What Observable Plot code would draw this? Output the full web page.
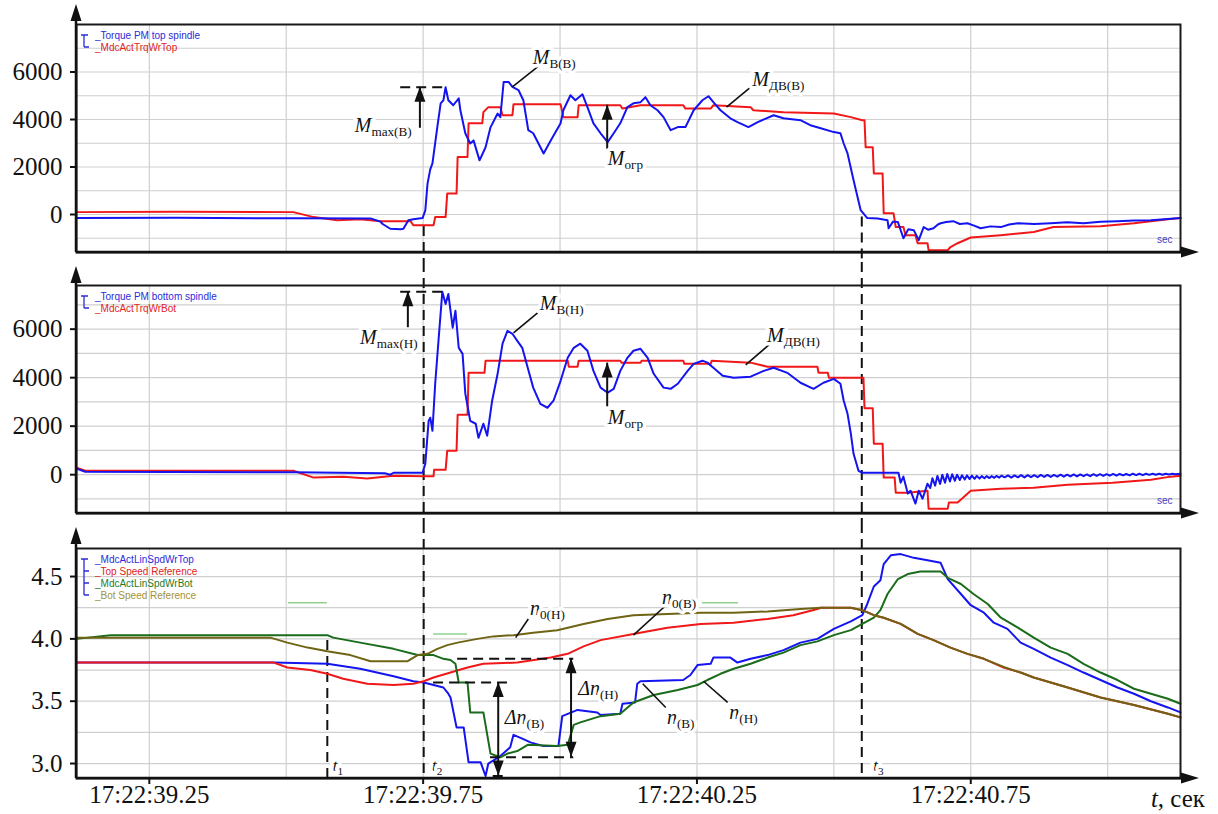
<!DOCTYPE html>
<html>
<head>
<meta charset="utf-8">
<script src="https://cdn.jsdelivr.net/npm/d3@7"></script>
<script src="https://cdn.jsdelivr.net/npm/@observablehq/plot@0.6"></script>
<style>
  body { margin: 0; background: #fff; }
  #chart { position: relative; width: 1218px; height: 814px; }
  #chart svg { position: absolute; left: 0; overflow: visible; }
</style>
</head>
<body>
<div id="chart"></div>
<script>
// ---- time axis (seconds within 17:22) ----
const timeDomain = [39.117, 41.133];
const majorTimes = [39.25, 39.75, 40.25, 40.75];
const gridTimes = [39.25, 39.5, 39.75, 40.0, 40.25, 40.5, 40.75, 41.0];
const tMarks = {t1: 39.575, t2: 39.751, t3: 40.551};

// ---- panel 1: top spindle torque ----
const torqueTicks = [0, 2000, 4000, 6000];
const torqueGrid = [-1000, 0, 1000, 2000, 3000, 4000, 5000, 6000, 7000];
const legendTop = [{label: "Torque PM top spindle", color: "#2b2bd9"}, {label: "MdcActTrqWrTop", color: "#e02424"}];
const torqueTopPM = [
  [39.117,-150],[39.300,-140],[39.513,-160],[39.654,-170],[39.672,-300],[39.676,-400],[39.690,-600],
  [39.709,-620],[39.714,-600],[39.723,-240],[39.732,-200],[39.749,-150],[39.754,180],[39.758,1300],
  [39.763,1900],[39.767,2150],[39.776,3700],[39.782,4680],[39.787,4810],[39.791,5360],[39.796,4810],
  [39.805,4600],[39.815,4890],[39.818,4390],[39.827,3420],[39.836,2990],[39.842,3120],[39.853,2280],
  [39.864,2830],[39.873,3670],[39.886,4250],[39.891,4100],[39.897,5580],[39.906,5580],[39.913,5370],
  [39.924,5240],[39.933,4810],[39.942,3550],[39.951,3420],[39.970,2570],[39.983,3120],[40.001,3840],
  [40.006,4390],[40.019,5020],[40.028,4810],[40.041,5060],[40.050,4520],[40.061,3840],[40.074,3420],
  [40.087,3050],[40.098,3420],[40.110,3840],[40.123,4520],[40.134,4680],[40.147,4730],[40.156,4940],
  [40.165,4600],[40.178,4390],[40.189,4100],[40.202,3550],[40.215,3680],[40.229,3680],[40.244,4390],
  [40.260,4810],[40.271,4980],[40.280,4730],[40.293,4390],[40.311,4050],[40.324,3890],[40.344,3680],
  [40.361,3890],[40.390,4180],[40.408,4050],[40.439,3970],[40.457,3760],[40.476,3630],[40.500,3470],
  [40.512,3420],[40.518,2990],[40.525,2570],[40.536,1440],[40.549,180],[40.561,-150],[40.580,-170],
  [40.598,-240],[40.600,-580],[40.608,-300],[40.617,-320],[40.627,-1000],[40.636,-620],[40.646,-660],
  [40.655,-1080],[40.664,-530],[40.672,-640],[40.682,-580],[40.690,-420],[40.695,-370],[40.705,-320],
  [40.718,-280],[40.730,-400],[40.744,-370],[40.756,-470],[40.768,-580],[40.786,-500],[40.805,-530],
  [40.820,-420],[40.836,-370],[40.866,-400],[40.896,-370],[40.926,-330],[40.956,-370],[40.987,-310],
  [41.018,-280],[41.048,-250],[41.079,-240],[41.110,-190],[41.133,-150]
];
const torqueRefTop = [
  [39.117,100],[39.300,120],[39.513,100],[39.550,-110],[39.593,-240],[39.635,-200],[39.672,-280],
  [39.727,-280],[39.732,-450],[39.769,-450],[39.772,-110],[39.791,-110],[39.794,880],[39.811,880],
  [39.813,2420],[39.831,2420],[39.833,3840],[39.858,3840],[39.860,4310],[39.869,4520],[39.891,4520],
  [39.895,4180],[39.913,4180],[39.915,4640],[40.001,4640],[40.006,4100],[40.032,4100],[40.034,4600],
  [40.110,4600],[40.114,4460],[40.147,4600],[40.225,4600],[40.229,4460],[40.275,4460],[40.280,4600],
  [40.348,4520],[40.353,4390],[40.408,4310],[40.500,4250],[40.531,4100],[40.552,3970],[40.556,3970],
  [40.558,2830],[40.571,2830],[40.573,1730],[40.589,1730],[40.591,50],[40.609,50],[40.613,-530],
  [40.627,-530],[40.631,-870],[40.649,-870],[40.653,-1210],[40.671,-1210],[40.673,-1500],[40.708,-1500],
  [40.713,-1370],[40.726,-1210],[40.750,-970],[40.805,-870],[40.865,-740],[40.901,-530],[40.987,-490],
  [41.048,-370],[41.110,-200],[41.133,-150]
];
const guidesTop = [{v: 5360, from: 39.709, to: 39.794}];
const arrowsTop = [{t: 39.745, from: 3630, to: 5360}, {t: 40.087, from: 2750, to: 4600}];
const leadersTop = [
  {t1: 39.959, v1: 6220, t2: 39.913, v2: 5370},
  {t1: 40.352, v1: 5440, t2: 40.304, v2: 4520}
];
const labelsTop = [
  {t: 39.730, v: 3760, text: "M|max(В)", end: true},
  {t: 39.951, v: 6620, text: "M|В(В)"},
  {t: 40.352, v: 5700, text: "M|ДВ(В)"},
  {t: 40.088, v: 2370, text: "M|огр"}
];

// ---- panel 2: bottom spindle torque ----
const legendBot = [{label: "Torque PM bottom spindle", color: "#2b2bd9"}, {label: "MdcActTrqWrBot", color: "#e02424"}];
const torqueBotPM = [
  [39.117,250],[39.133,120],[39.513,100],[39.680,60],[39.690,0],[39.696,80],[39.749,80],[39.754,450],
  [39.760,2220],[39.763,2350],[39.767,1810],[39.772,3750],[39.778,5520],[39.785,7540],[39.791,7040],
  [39.796,7450],[39.804,6060],[39.809,6760],[39.815,5230],[39.822,4980],[39.827,3340],[39.836,2220],
  [39.846,2100],[39.851,1520],[39.860,2100],[39.867,1610],[39.876,3050],[39.886,4160],[39.895,5400],
  [39.904,5930],[39.913,5810],[39.922,5520],[39.931,5230],[39.941,4410],[39.951,3590],[39.964,2920],
  [39.977,2760],[39.988,3050],[40.001,3870],[40.014,4820],[40.025,5230],[40.037,5400],[40.050,5110],
  [40.061,4280],[40.074,3590],[40.087,3380],[40.098,3540],[40.110,4280],[40.123,4820],[40.134,5110],
  [40.147,5190],[40.160,4820],[40.171,4160],[40.189,3590],[40.202,3540],[40.215,3750],[40.233,4280],
  [40.244,4570],[40.260,4700],[40.269,4620],[40.280,4410],[40.297,4080],[40.317,4000],[40.348,4040],
  [40.372,4280],[40.390,4410],[40.415,4200],[40.439,3790],[40.463,3540],[40.481,3790],[40.500,3950],
  [40.512,3750],[40.518,3050],[40.525,2510],[40.531,1690],[40.536,860],[40.545,160],[40.552,80],
  [40.618,80],[40.622,-330],[40.627,-80],[40.635,-780],[40.640,-660],[40.649,-1190],[40.655,-660],
  [40.662,-990],[40.671,-370],[40.676,-550],[40.680,-150],[40.685,-450],[40.689,-50],[40.694,-380],
  [40.698,0],[40.703,-330],[40.707,30],[40.712,-280],[40.716,20],[40.721,-250],[40.725,0],[40.730,-220],
  [40.734,-20],[40.739,-200],[40.743,-30],[40.748,-180],[40.752,-40],[40.757,-170],[40.761,-50],
  [40.766,-160],[40.770,-60],[40.775,-150],[40.779,-60],[40.784,-140],[40.788,-60],[40.793,-130],
  [40.797,-50],[40.802,-120],[40.806,-40],[40.812,-110],[40.818,-30],[40.824,-120],[40.830,-30],
  [40.836,-110],[40.842,-20],[40.848,-110],[40.854,-20],[40.860,-100],[40.866,-20],[40.872,-100],
  [40.878,-10],[40.884,-90],[40.890,-10],[40.896,-90],[40.902,-10],[40.908,-80],[40.914,0],[40.920,-80],
  [40.926,0],[40.932,-70],[40.938,10],[40.944,-70],[40.950,10],[40.956,-60],[40.962,10],[40.968,-60],
  [40.974,20],[40.980,-50],[40.986,20],[40.992,-50],[40.998,20],[41.004,-40],[41.010,30],[41.016,-40],
  [41.022,30],[41.028,-30],[41.034,30],[41.040,-30],[41.046,40],[41.052,-20],[41.058,40],[41.064,-20],
  [41.070,40],[41.076,-10],[41.082,40],[41.088,0],[41.094,40],[41.100,0],[41.106,40],[41.112,10],
  [41.118,40],[41.124,20],[41.133,40]
];
const torqueRefBot = [
  [39.117,290],[39.133,160],[39.513,160],[39.550,-120],[39.604,-80],[39.648,-160],[39.696,-40],
  [39.751,-60],[39.769,-60],[39.770,200],[39.791,200],[39.794,990],[39.811,990],[39.813,2470],
  [39.831,2470],[39.833,4200],[39.862,4200],[39.864,4700],[40.014,4700],[40.016,4450],[40.032,4450],
  [40.034,4700],[40.110,4700],[40.112,4620],[40.147,4620],[40.149,4700],[40.225,4700],[40.227,4570],
  [40.275,4570],[40.277,4700],[40.348,4620],[40.379,4450],[40.470,4450],[40.472,4200],[40.489,4200],
  [40.491,4000],[40.554,4000],[40.556,2740],[40.571,2740],[40.573,1280],[40.589,1280],[40.591,-120],
  [40.611,-120],[40.613,-740],[40.635,-740],[40.671,-660],[40.673,-1400],[40.708,-1400],[40.710,-1150],
  [40.726,-1150],[40.750,-660],[40.805,-580],[40.865,-540],[40.927,-410],[41.009,-330],[41.079,-210],
  [41.115,-80],[41.133,-40]
];
const guidesBot = [{v: 7540, from: 39.709, to: 39.794}];
const arrowsBot = [{t: 39.723, from: 6060, to: 7540}, {t: 40.087, from: 2800, to: 4600}];
const leadersBot = [
  {t1: 39.959, v1: 6670, t2: 39.915, v2: 5850},
  {t1: 40.384, v1: 5400, t2: 40.339, v2: 4530}
];
const labelsBot = [
  {t: 39.741, v: 5640, text: "M|max(Н)", end: true},
  {t: 39.964, v: 7040, text: "M|В(Н)"},
  {t: 40.379, v: 5730, text: "M|ДВ(Н)"},
  {t: 40.088, v: 2350, text: "M|огр"}
];

// ---- panel 3: linear speeds ----
const speedTicks = [3.0, 3.5, 4.0, 4.5];
const speedGrid = [3.0, 3.25, 3.5, 3.75, 4.0, 4.25, 4.5];
const legendSpeed = [
  {label: "MdcActLinSpdWrTop", color: "#2b2bd9"},
  {label: "Top Speed Reference", color: "#e02424"},
  {label: "MdcActLinSpdWrBot", color: "#1f7a1f"},
  {label: "Bot Speed Reference", color: "#a39236"}
];
const speedTopAct = [
  [39.117,3.81],[39.477,3.81],[39.575,3.80],[39.635,3.76],[39.696,3.70],[39.732,3.66],[39.751,3.65],
  [39.787,3.61],[39.796,3.56],[39.800,3.53],[39.811,3.29],[39.824,3.29],[39.833,3.01],[39.855,3.01],
  [39.864,2.90],[39.869,3.00],[39.891,3.06],[39.909,3.13],[39.915,3.23],[39.931,3.20],[39.946,3.17],
  [39.970,3.14],[39.997,3.14],[40.004,3.38],[40.032,3.43],[40.068,3.41],[40.074,3.39],[40.110,3.40],
  [40.114,3.48],[40.137,3.49],[40.141,3.64],[40.147,3.66],[40.225,3.67],[40.238,3.71],[40.251,3.79],
  [40.275,3.80],[40.280,3.85],[40.311,3.85],[40.324,3.81],[40.348,3.84],[40.379,3.87],[40.408,3.91],
  [40.439,3.97],[40.470,4.00],[40.500,4.08],[40.531,4.14],[40.552,4.19],[40.561,4.28],[40.573,4.42],
  [40.585,4.47],[40.591,4.60],[40.604,4.67],[40.622,4.68],[40.646,4.65],[40.671,4.63],[40.695,4.61],
  [40.708,4.48],[40.732,4.36],[40.750,4.27],[40.774,4.21],[40.792,4.13],[40.817,4.08],[40.841,3.97],
  [40.865,3.92],[40.896,3.85],[40.927,3.79],[40.956,3.73],[40.987,3.67],[41.018,3.61],[41.048,3.56],
  [41.079,3.50],[41.110,3.45],[41.133,3.41]
];
const speedTopRef = [
  [39.117,3.81],[39.477,3.81],[39.502,3.77],[39.544,3.75],[39.575,3.72],[39.604,3.68],[39.648,3.64],
  [39.696,3.63],[39.732,3.64],[39.751,3.66],[39.769,3.69],[39.800,3.73],[39.831,3.77],[39.860,3.80],
  [39.922,3.81],[39.983,3.85],[40.014,3.88],[40.043,3.94],[40.074,3.99],[40.134,4.04],[40.196,4.09],
  [40.257,4.12],[40.317,4.13],[40.379,4.16],[40.426,4.19],[40.470,4.24],[40.476,4.25],[40.531,4.25],
  [40.552,4.23],[40.573,4.19],[40.591,4.17],[40.622,4.12],[40.653,4.04],[40.682,3.99],[40.713,3.93],
  [40.744,3.88],[40.774,3.84],[40.810,3.77],[40.841,3.73],[40.865,3.69],[40.927,3.61],[40.987,3.53],
  [41.048,3.47],[41.110,3.40],[41.133,3.37]
];
const speedBotAct = [
  [39.117,4.00],[39.179,4.03],[39.575,4.03],[39.586,4.01],[39.635,3.97],[39.696,3.92],[39.740,3.87],
  [39.769,3.87],[39.787,3.84],[39.800,3.83],[39.809,3.80],[39.815,3.65],[39.831,3.65],[39.836,3.41],
  [39.860,3.41],[39.873,3.08],[39.891,3.05],[39.904,3.08],[39.922,3.10],[39.941,3.15],[39.995,3.14],
  [40.014,3.15],[40.025,3.31],[40.037,3.33],[40.074,3.38],[40.110,3.40],[40.134,3.49],[40.171,3.55],
  [40.215,3.59],[40.251,3.63],[40.269,3.67],[40.293,3.72],[40.317,3.76],[40.348,3.80],[40.379,3.85],
  [40.408,3.89],[40.439,3.95],[40.470,3.98],[40.500,4.03],[40.531,4.07],[40.552,4.12],[40.573,4.17],
  [40.585,4.23],[40.598,4.36],[40.617,4.48],[40.635,4.52],[40.658,4.54],[40.695,4.54],[40.708,4.49],
  [40.732,4.44],[40.755,4.36],[40.781,4.28],[40.805,4.17],[40.836,4.09],[40.865,4.01],[40.896,3.93],
  [40.927,3.88],[40.956,3.80],[40.987,3.73],[41.018,3.67],[41.048,3.60],[41.079,3.56],[41.110,3.52],
  [41.133,3.48]
];
const speedBotRef = [
  [39.117,4.01],[39.471,4.01],[39.502,3.97],[39.539,3.93],[39.575,3.90],[39.617,3.87],[39.654,3.82],
  [39.721,3.82],[39.740,3.87],[39.758,3.88],[39.776,3.92],[39.794,3.95],[39.813,3.97],[39.849,4.00],
  [39.878,4.02],[39.915,4.03],[39.951,4.05],[39.995,4.07],[40.043,4.12],[40.087,4.16],[40.134,4.19],
  [40.196,4.20],[40.257,4.21],[40.317,4.21],[40.379,4.22],[40.439,4.24],[40.476,4.25],[40.531,4.25],
  [40.552,4.23],[40.573,4.19],[40.591,4.17],[40.622,4.12],[40.653,4.04],[40.682,3.99],[40.713,3.93],
  [40.744,3.88],[40.774,3.84],[40.810,3.775],[40.841,3.73],[40.865,3.69],[40.927,3.61],[40.987,3.53],
  [41.048,3.47],[41.110,3.40],[41.133,3.37]
];
const faintSegments = [
  {v: 4.29, from: 39.504, to: 39.575},
  {v: 4.29, from: 40.260, to: 40.326},
  {v: 4.04, from: 39.769, to: 39.831}
];
const guidesSpeed = [
  {v: 3.65, from: 39.769, to: 39.904},
  {v: 2.90, from: 39.878, to: 39.904},
  {v: 3.84, from: 39.813, to: 40.025},
  {v: 3.05, from: 39.873, to: 40.025}
];
const arrowsSpeed = [
  {t: 39.888, from: 3.65, to: 2.90, both: true},
  {t: 40.021, from: 3.84, to: 3.05, both: true}
];
const leadersSpeed = [
  {t1: 39.942, v1: 4.16, t2: 39.919, v2: 4.01},
  {t1: 40.196, v1: 4.28, t2: 40.134, v2: 4.03},
  {t1: 40.193, v1: 3.45, t2: 40.151, v2: 3.64},
  {t1: 40.306, v1: 3.49, t2: 40.262, v2: 3.66}
];
const labelsSpeed = [
  {t: 39.900, v: 3.37, text: "Δn|(В)"},
  {t: 40.034, v: 3.60, text: "Δn|(Н)"},
  {t: 39.946, v: 4.24, text: "n|0(Н)"},
  {t: 40.187, v: 4.33, text: "n|0(В)"},
  {t: 40.196, v: 3.37, text: "n|(В)"},
  {t: 40.310, v: 3.41, text: "n|(Н)"}
];
const labelsInstants = [
  {t: 39.586, v: 2.98, text: "t|1"},
  {t: 39.767, v: 2.98, text: "t|2"},
  {t: 40.573, v: 2.98, text: "t|3"}
];

// ---- styling ----
const SERIF = "'Liberation Serif', 'Times New Roman', serif";
const SANS = "'Liberation Sans', Arial, sans-serif";
const INK = "#111";
const BLUE = "#1414f0", RED = "#f01818", GREEN = "#1a6b1a", OLIVE = "#6f6414";
const DASH = "10,6";
const fmtTime = d => "17:22:" + d.toFixed(2);
const pts = arr => arr.map(([t, v]) => ({t, v}));

// axis lines with filled arrowheads on the left and bottom edges of a panel
const axisArrows = (index, scales, values, {width, height, marginLeft, marginRight, marginBottom}) => {
  const g = d3.create("svg:g").attr("fill", INK).attr("stroke", INK);
  const x0 = marginLeft, y0 = height - marginBottom, xr = width - marginRight + 19, yt = 4;
  g.append("path").attr("fill", "none").attr("stroke-width", 2.5)
    .attr("d", `M${x0},${y0}V${yt + 10}M${x0},${y0}H${xr - 10}`);
  g.append("path").attr("stroke", "none")
    .attr("d", `M${x0},${yt}L${x0 - 5.5},${yt + 17}L${x0 + 5.5},${yt + 17}Z` +
               `M${xr},${y0}L${xr - 18},${y0 - 5.5}L${xr - 18},${y0 + 5.5}Z`);
  return g.node();
};

// in-frame series legend with a bracket, top-left corner
const legendMark = items => (index, scales, values, {marginLeft, marginTop}) => {
  const g = d3.create("svg:g").attr("font-family", SANS).attr("font-size", 10).attr("text-anchor", "start");
  const x0 = marginLeft + 8, y0 = marginTop + 11, step = 12;
  const yEnd = y0 + step * (items.length - 1);
  let d = `M${x0 - 3},${y0}H${x0 + 4}M${x0},${y0}V${yEnd}`;
  items.forEach((_, i) => { if (i) d += `M${x0},${y0 + i * step}H${x0 + 5}`; });
  g.append("path").attr("d", d).attr("fill", "none").attr("stroke", "#2b2bd9").attr("stroke-width", 1.3);
  items.forEach((it, i) => g.append("text")
    .attr("x", x0 + 11).attr("y", y0 + i * step).attr("dy", "0.35em")
    .attr("fill", it.color).text("_" + it.label));
  return g.node();
};

// vertical annotation arrows with filled heads
const arrowMark = list => (index, {x, y}) => {
  const g = d3.create("svg:g").attr("fill", INK).attr("stroke", INK);
  for (const a of list) {
    const px = x(a.t), p1 = y(a.from), p2 = y(a.to);
    g.append("line").attr("x1", px).attr("x2", px).attr("y1", p1).attr("y2", p2).attr("stroke-width", 2);
    const head = (tip, dir) => g.append("path").attr("stroke", "none")
      .attr("d", `M${px},${tip}L${px - 5.5},${tip + dir * 15}L${px + 5.5},${tip + dir * 15}Z`);
    head(p2, Math.sign(p1 - p2));
    if (a.both) head(p1, Math.sign(p2 - p1));
  }
  return g.node();
};

// italic symbol with an upright subscript, e.g. M_ДВ(В)
const labelMark = (list, size) => (index, {x, y}) => {
  const g = d3.create("svg:g").attr("font-family", SERIF).attr("fill", INK);
  for (const d of list) {
    const [main, sub] = d.text.split("|");
    const t = g.append("text").attr("x", x(d.t)).attr("y", y(d.v)).attr("dy", "0.35em")
      .attr("text-anchor", d.end ? "end" : "start").attr("font-size", size)
      .attr("stroke", "white").attr("stroke-width", 7).attr("stroke-linejoin", "round")
      .attr("paint-order", "stroke");
    t.append("tspan").attr("font-style", "italic").text(main);
    if (sub) t.append("tspan").attr("font-size", "0.66em").attr("dy", "0.3em").text(sub);
  }
  return g.node();
};

const leaderMark = list => Plot.link(list, {x1: "t1", y1: "v1", x2: "t2", y2: "v2", stroke: INK, strokeWidth: 1.6});
const guideMark = list => Plot.ruleY(list, {y: "v", x1: "from", x2: "to", stroke: INK, strokeWidth: 2, strokeDasharray: DASH});
const secLabel = Plot.text(["sec"], {frameAnchor: "bottom-right", dx: -8, dy: -10, textAnchor: "end",
  fontFamily: SANS, fontSize: 10, fill: "#4040c8"});

const unitLabel = (index, scales, values, {width, height}) => {
  const t = d3.create("svg:text").attr("x", width - 13).attr("y", height - 7)
    .attr("text-anchor", "end").attr("font-family", SERIF).attr("font-size", 25).attr("fill", INK);
  t.append("tspan").attr("font-style", "italic").text("t");
  t.append("tspan").text(", сек");
  return t.node();
};

function panel({top, height, marginTop, marginBottom, yDomain, yTicks, yGrid, yFormat, xAxis, marks}) {
  const svg = Plot.plot({
    width: 1218, height, marginLeft: 76, marginRight: 38, marginTop, marginBottom,
    x: {domain: timeDomain, axis: null},
    y: {domain: yDomain, axis: null},
    style: {fontFamily: SERIF, background: "transparent", color: INK},
    marks: [
      Plot.gridX(gridTimes, {stroke: "#cfcfcf", strokeOpacity: 1, strokeWidth: 1.2}),
      Plot.gridY(yGrid, {stroke: "#cfcfcf", strokeOpacity: 1, strokeWidth: 1.2}),
      Plot.axisY(yTicks, {tickSize: 6, tickPadding: 8, fontSize: 25, tickFormat: yFormat, strokeWidth: 2, label: null}),
      xAxis ? Plot.axisX(majorTimes, {tickSize: 6, tickPadding: 1, fontSize: 25, tickFormat: fmtTime, strokeWidth: 2, label: null}) : null,
      ...marks,
      Plot.frame({stroke: "#1a1a1a", strokeWidth: 2}),
      axisArrows
    ]
  });
  svg.style.top = top + "px";
  document.getElementById("chart").appendChild(svg);
}

// panel 1 — top spindle torque
panel({
  top: 0, height: 262, marginTop: 24, marginBottom: 10,
  yDomain: [-1600, 8000], yTicks: torqueTicks, yGrid: torqueGrid, yFormat: d3.format("d"),
  marks: [
    Plot.ruleX([tMarks.t2], {y1: -500, y2: -1600, insetBottom: -10, stroke: INK, strokeWidth: 2, strokeDasharray: DASH}),
    Plot.ruleX([tMarks.t3], {y1: -100, y2: -1600, insetBottom: -10, stroke: INK, strokeWidth: 2, strokeDasharray: DASH}),
    Plot.line(pts(torqueRefTop), {x: "t", y: "v", stroke: RED, strokeWidth: 2}),
    Plot.line(pts(torqueTopPM), {x: "t", y: "v", stroke: BLUE, strokeWidth: 2}),
    guideMark(guidesTop),
    leaderMark(leadersTop),
    arrowMark(arrowsTop),
    labelMark(labelsTop, 20),
    legendMark(legendTop),
    secLabel
  ]
});

// panel 2 — bottom spindle torque
panel({
  top: 262, height: 261, marginTop: 23, marginBottom: 10,
  yDomain: [-1600, 7800], yTicks: torqueTicks, yGrid: torqueGrid, yFormat: d3.format("d"),
  marks: [
    Plot.ruleX([tMarks.t2, tMarks.t3], {insetTop: -23, insetBottom: -10, stroke: INK, strokeWidth: 2, strokeDasharray: DASH}),
    Plot.line(pts(torqueRefBot), {x: "t", y: "v", stroke: RED, strokeWidth: 2}),
    Plot.line(pts(torqueBotPM), {x: "t", y: "v", stroke: BLUE, strokeWidth: 2}),
    guideMark(guidesBot),
    leaderMark(leadersBot),
    arrowMark(arrowsBot),
    labelMark(labelsBot, 20),
    legendMark(legendBot),
    secLabel
  ]
});

// panel 3 — linear speeds with time axis
panel({
  top: 523, height: 291, marginTop: 25, marginBottom: 36,
  yDomain: [2.88, 4.725], yTicks: speedTicks, yGrid: speedGrid, yFormat: d3.format(".1f"), xAxis: true,
  marks: [
    Plot.ruleY(faintSegments, {y: "v", x1: "from", x2: "to", stroke: "#8fd08f", strokeWidth: 1.5}),
    Plot.ruleX([tMarks.t2, tMarks.t3], {insetTop: -25, stroke: INK, strokeWidth: 2, strokeDasharray: DASH}),
    Plot.ruleX([tMarks.t1], {y1: 2.88, y2: 4.03, stroke: INK, strokeWidth: 2, strokeDasharray: DASH}),
    Plot.line(pts(speedTopAct), {x: "t", y: "v", stroke: BLUE, strokeWidth: 2}),
    Plot.line(pts(speedTopRef), {x: "t", y: "v", stroke: RED, strokeWidth: 2}),
    Plot.line(pts(speedBotAct), {x: "t", y: "v", stroke: GREEN, strokeWidth: 2}),
    Plot.line(pts(speedBotRef), {x: "t", y: "v", stroke: OLIVE, strokeWidth: 2}),
    guideMark(guidesSpeed),
    leaderMark(leadersSpeed),
    arrowMark(arrowsSpeed),
    labelMark(labelsSpeed, 20),
    labelMark(labelsInstants, 17),
    legendMark(legendSpeed),
    unitLabel
  ]
});
</script>
</body>
</html>
